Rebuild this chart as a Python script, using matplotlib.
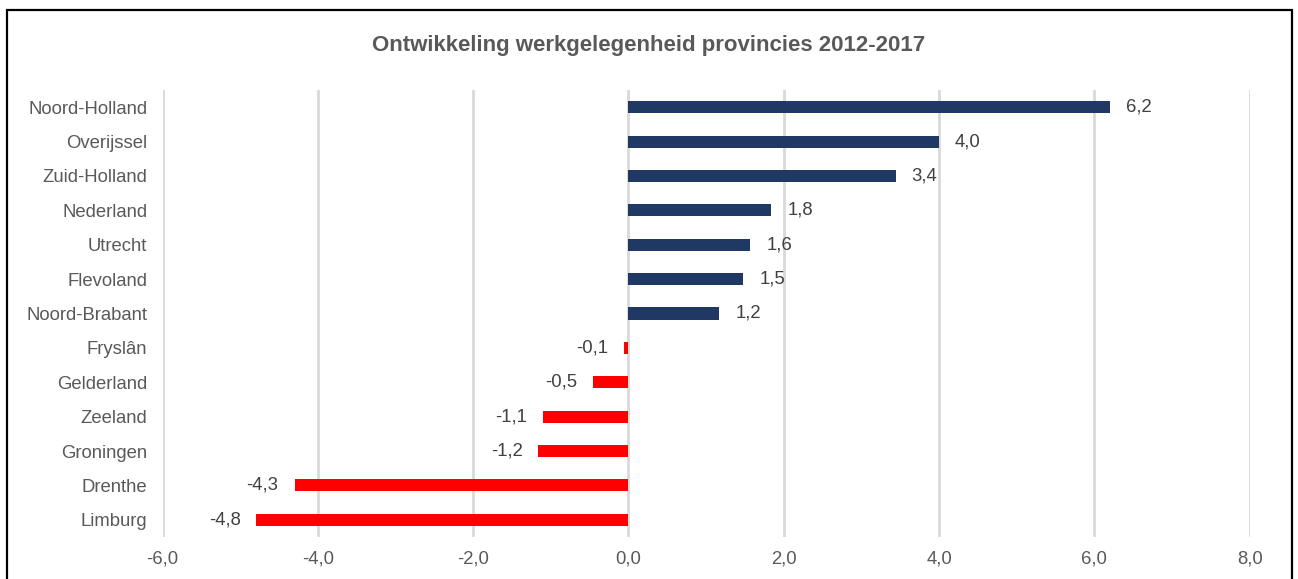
import matplotlib
matplotlib.use('Agg')
import matplotlib.pyplot as plt
from matplotlib.patches import Rectangle
import numpy as np

plt.rcParams['font.family'] = ['Liberation Sans', 'DejaVu Sans']

provincies = ['Noord-Holland', 'Overijssel', 'Zuid-Holland', 'Nederland', 'Utrecht',
              'Flevoland', 'Noord-Brabant', 'Fryslân', 'Gelderland', 'Zeeland',
              'Groningen', 'Drenthe', 'Limburg']
groei = [6.2, 4.0, 3.44, 1.84, 1.57, 1.48, 1.17, -0.06, -0.46, -1.10, -1.16, -4.30, -4.79]
xticks = [-6, -4, -2, 0, 2, 4, 6, 8]

blauw = '#1F3864'
rood = '#FF0000'
grijs = '#595959'

fig = plt.figure(figsize=(12.98, 5.79), dpi=100)
ax = fig.add_axes([0.1252, 0.0725, 0.9628 - 0.1252, 0.8446 - 0.0725])

ypos = np.arange(len(provincies))
kleuren = [blauw if v >= 0 else rood for v in groei]
bars = ax.barh(ypos, groei, height=0.35, color=kleuren, zorder=3)

# data labels
for b, v in zip(bars, groei):
    txt = '{:.1f}'.format(v).replace('.', ',')
    if v >= 0:
        ax.annotate(txt, (v, b.get_y() + b.get_height() / 2), xytext=(11.5, 0),
                    textcoords='offset points', va='center', ha='left',
                    fontsize=13.3, color='#404040')
    else:
        ax.annotate(txt, (v, b.get_y() + b.get_height() / 2), xytext=(-11.5, 0),
                    textcoords='offset points', va='center', ha='right',
                    fontsize=13.3, color='#404040')

ax.set_xlim(-6, 8)
ax.set_ylim(len(provincies) - 0.5, -0.5)
ax.set_xticks(xticks)
ax.set_xticklabels(['{:.1f}'.format(t).replace('.', ',') for t in xticks])
ax.set_yticks(ypos)
ax.set_yticklabels(provincies)
ax.tick_params(axis='both', length=0, labelsize=13.3, labelcolor=grijs)
ax.tick_params(axis='y', pad=11)
ax.tick_params(axis='x', pad=10)
ax.grid(axis='x', color='#D9D9D9', linewidth=2, zorder=0)
for s in ax.spines.values():
    s.set_visible(False)

fig.text(0.5, 1 - 45 / 579, 'Ontwikkeling werkgelegenheid provincies 2012-2017',
         ha='center', va='center', fontsize=16, fontweight='bold', color=grijs)

# outer frame
fig.patches.append(Rectangle((7 / 1298, -0.05), (1292 - 7) / 1298, 1.05 - 10 / 579,
                             transform=fig.transFigure, fill=False,
                             edgecolor='black', linewidth=1.6))

fig.savefig('out.png', dpi=100)
